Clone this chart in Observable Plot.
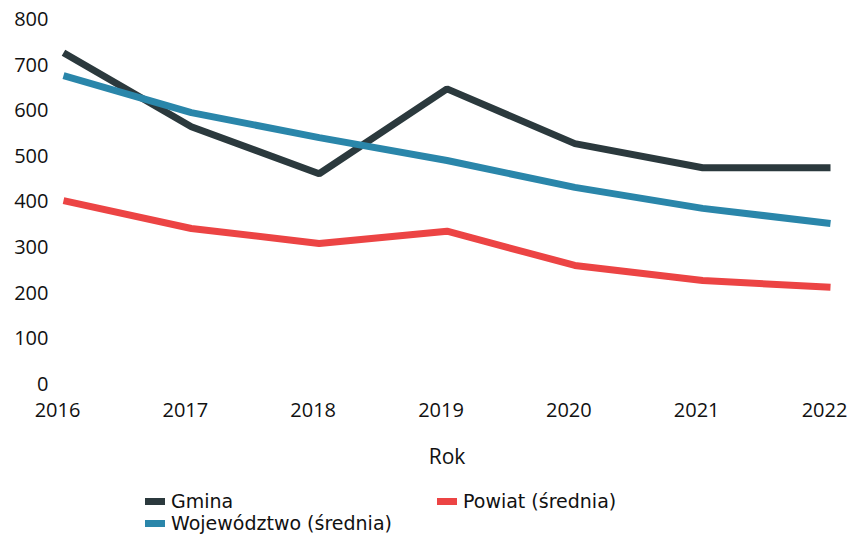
<!DOCTYPE html>
<html>
<head>
<meta charset="utf-8">
<script src="https://cdn.jsdelivr.net/npm/d3@7"></script>
<script src="https://cdn.jsdelivr.net/npm/@observablehq/plot@0.6"></script>
<style>
  html, body { margin: 0; padding: 0; background: #fff; }
  body { width: 854px; height: 542px; overflow: hidden; font-family: "Open Sans", "Noto Sans", sans-serif; color: #111; }
  #legend { position: relative; height: 73px; font-family: "DejaVu Sans", sans-serif; font-size: 19px; line-height: 20px; color: #111; }
  .item { position: absolute; display: flex; align-items: center; white-space: nowrap; height: 20px; }
  .sw { width: 20px; height: 7px; margin-right: 6px; }
</style>
</head>
<body>
<div id="chart"></div>
<div id="legend"></div>
<script>
const years = [2016, 2017, 2018, 2019, 2020, 2021, 2022];
const gmina = [727, 565, 462, 648, 528, 475, 475];
const wojewodztwo = [677, 596, 541, 491, 432, 386, 353];
const powiat = [403, 342, 309, 336, 261, 228, 213];
const seriesNames = ["Gmina", "Województwo (średnia)", "Powiat (średnia)"];
const seriesColors = ["#2b393d", "#2a86aa", "#ec4444"];
const yTicks = [0, 100, 200, 300, 400, 500, 600, 700, 800];

const seriesValues = [gmina, wojewodztwo, powiat];
const data = [];
seriesNames.forEach((name, i) => {
  years.forEach((yr, j) => data.push({series: name, year: yr, value: seriesValues[i][j]}));
});

const chart = Plot.plot({
  width: 854,
  height: 469,
  marginTop: 19,
  marginBottom: 85,
  marginLeft: 63,
  marginRight: 24,
  style: {fontFamily: '"Open Sans", "Noto Sans", sans-serif', fontSize: "20px", color: "#111", background: "#fff"},
  x: {type: "linear", domain: [2016, 2022], ticks: years, tickFormat: d => String(d), label: "Rok", labelAnchor: "center", labelArrow: "none"},
  y: {domain: [0, 800], ticks: yTicks, label: null},
  color: {domain: seriesNames, range: seriesColors},
  marks: [
    Plot.axisY({ticks: yTicks, tickSize: 0, tickPadding: 15, label: null, fontSize: 20}),
    Plot.axisX({ticks: years, tickFormat: d => String(d), tickSize: 0, tickPadding: 18, dx: -6, label: null, fontSize: 20}),
    Plot.axisX({ticks: [], tickSize: 0, label: "Rok", labelAnchor: "center", labelArrow: "none", labelOffset: 79, dx: -3, fontSize: 21}),
    Plot.line(data, {x: "year", y: "value", z: "series", stroke: "series", strokeWidth: 7, strokeLinejoin: "miter", strokeLinecap: "butt"})
  ]
});
document.getElementById("chart").appendChild(chart);

const legendPos = [[145, 32], [145, 54], [437, 32]];
const legend = document.getElementById("legend");
seriesNames.forEach((name, i) => {
  const it = document.createElement("div");
  it.className = "item";
  it.style.left = legendPos[i][0] + "px";
  it.style.top = (legendPos[i][1] - 10) + "px";
  const sw = document.createElement("span");
  sw.className = "sw";
  sw.style.background = seriesColors[i];
  const tx = document.createElement("span");
  tx.textContent = name;
  it.appendChild(sw);
  it.appendChild(tx);
  legend.appendChild(it);
});
</script>
</body>
</html>
